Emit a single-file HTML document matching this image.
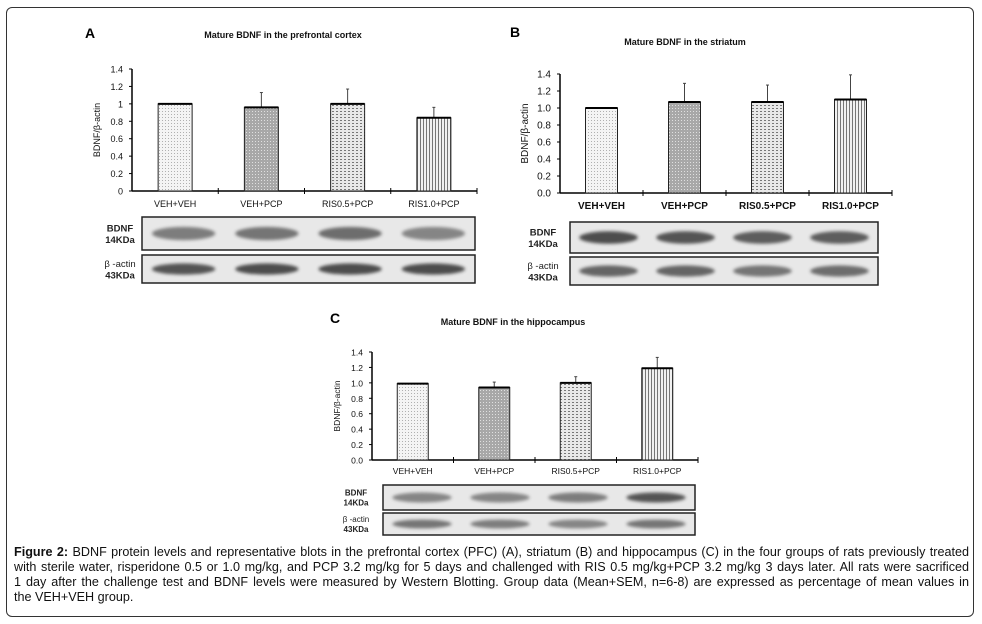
<!DOCTYPE html>
<html><head><meta charset="utf-8"><style>
body{margin:0;background:#fff;width:982px;height:624px;overflow:hidden;font-family:"Liberation Sans",Arial,sans-serif}
#frame{position:absolute;left:6px;top:7px;width:968px;height:610px;border:1px solid #333;border-radius:6px;box-sizing:border-box}
#cap{position:absolute;left:14px;top:545px;width:955px;font-size:12.6px;line-height:15px;color:#111}
#cap div{text-align:justify;text-align-last:justify;white-space:nowrap}
#cap div.last{text-align-last:left}
</style></head><body>
<div id="frame"></div>
<svg id="fig" width="982" height="624" style="position:absolute;left:0;top:0">
<defs>
<pattern id="p0" width="3" height="3" patternUnits="userSpaceOnUse"><rect width="3" height="3" fill="#f4f4f4"/><rect width="1" height="1" fill="#b0b0b0"/></pattern>
<pattern id="p1" width="3" height="3" patternUnits="userSpaceOnUse"><rect width="3" height="3" fill="#a8a8a8"/><rect width="1" height="1" fill="#e0e0e0"/></pattern>
<pattern id="p2" width="4" height="3" patternUnits="userSpaceOnUse"><rect width="4" height="3" fill="#e8e8e8"/><rect width="2" height="1" fill="#777"/></pattern>
<pattern id="p3" width="3" height="3" patternUnits="userSpaceOnUse"><rect width="3" height="3" fill="#f2f2f2"/><rect width="1" height="3" fill="#777"/></pattern>
<filter id="bl" x="-20%" y="-100%" width="140%" height="300%"><feGaussianBlur stdDeviation="1.6"/></filter>
</defs>
</svg>
<div id="cap">
<div><b>Figure 2:</b> BDNF protein levels and representative blots in the prefrontal cortex (PFC) (A), striatum (B) and hippocampus (C) in the four groups of rats previously treated</div>
<div>with sterile water, risperidone 0.5 or 1.0 mg/kg, and PCP 3.2 mg/kg for 5 days and challenged with RIS 0.5 mg/kg+PCP 3.2 mg/kg 3 days later. All rats were sacrificed</div>
<div>1 day after the challenge test and BDNF levels were measured by Western Blotting. Group data (Mean+SEM, n=6-8) are expressed as percentage of mean values in</div>
<div class="last">the VEH+VEH group.</div>
</div>
<script>
const categories=["VEH+VEH","VEH+PCP","RIS0.5+PCP","RIS1.0+PCP"];
const valuesA=[1.0,0.96,1.0,0.84];
const errTopA=[1.0,1.13,1.17,0.96];
const valuesB=[1.0,1.07,1.07,1.10];
const errTopB=[1.0,1.29,1.27,1.39];
const valuesC=[0.99,0.94,1.0,1.19];
const errTopC=[0.99,1.01,1.08,1.33];
const ticksA=["0","0.2","0.4","0.6","0.8","1","1.2","1.4"];
const ticksBC=["0.0","0.2","0.4","0.6","0.8","1.0","1.2","1.4"];
const tickVals=[0,0.2,0.4,0.6,0.8,1.0,1.2,1.4];
const bdnfIntensityA=[0.65,0.7,0.75,0.6];
const actinIntensityA=[0.9,0.95,0.95,0.95];
const bdnfIntensityB=[0.95,0.9,0.85,0.85];
const actinIntensityB=[0.8,0.8,0.7,0.75];
const bdnfIntensityC=[0.6,0.6,0.65,0.9];
const actinIntensityC=[0.7,0.65,0.6,0.7];

const NS="http://www.w3.org/2000/svg";
const svg=document.getElementById('fig');
function mk(tag,attrs,parent){const e=document.createElementNS(NS,tag);for(const k in attrs)e.setAttribute(k,attrs[k]);(parent||svg).appendChild(e);return e;}
function txt(s,attrs,parent){const e=mk('text',attrs,parent);e.textContent=s;return e;}

const panels=[
 {id:'a',letter:'A',lx:85,ly:38,title:'Mature BDNF in the prefrontal cortex',tx:283,ty:38,x0:132,x1:477,y0:191,y1:69,bw:34,vals:valuesA,errs:errTopA,ticks:ticksA,bold:false,labY:207,fs:9,
  blot:{x0:142,x1:475,b:[217,250],a:[255,283],lx:120,bi:bdnfIntensityA,ai:actinIntensityA}},
 {id:'b',letter:'B',lx:510,ly:37,title:'Mature BDNF in the striatum',tx:685,ty:45,x0:560,x1:892,y0:193,y1:74,bw:32,vals:valuesB,errs:errTopB,ticks:ticksBC,bold:true,labY:209,fs:10,
  blot:{x0:570,x1:878,b:[222,253],a:[257,285],lx:543,bi:bdnfIntensityB,ai:actinIntensityB}},
 {id:'c',letter:'C',lx:330,ly:323,title:'Mature BDNF in the hippocampus',tx:513,ty:325,x0:372,x1:698,y0:460,y1:352,bw:31,vals:valuesC,errs:errTopC,ticks:ticksBC,bold:false,labY:474,fs:8.5,
  blot:{x0:383,x1:695,b:[485,510],a:[513,535],lx:356,bi:bdnfIntensityC,ai:actinIntensityC}}
];

panels.forEach(p=>{
 const g=mk('g',{});
 
 
 const L=txt(p.letter,{x:p.lx,y:p.ly,'font-size':14,'font-weight':'bold',fill:'#000'},g);
 
 
 const T=txt(p.title,{x:p.tx,y:p.ty,'font-size':9,'font-weight':'bold','text-anchor':'middle',fill:'#111'},g);
 
 
 const yS=v=>p.y0-(v/1.4)*(p.y0-p.y1);
 const cw=(p.x1-p.x0)/categories.length;
 const xC=i=>p.x0+cw*(i+0.5);
 const ya=mk('line',{x1:p.x0,y1:p.y0,x2:p.x0,y2:p.y1,stroke:'#000','stroke-width':1.5},g);
 
 
 const xa=mk('line',{x1:p.x0,y1:p.y0,x2:p.x1,y2:p.y0,stroke:'#000','stroke-width':1.5},g);
 
 
 tickVals.forEach((v,i)=>{
  mk('line',{x1:p.x0-3,y1:yS(v),x2:p.x0,y2:yS(v),stroke:'#000'},g);
  const t=txt(p.ticks[i],{x:p.x0-9,y:yS(v)+3.5,'font-size':p.fs,'text-anchor':'end',fill:'#111'},g);
  
  
 });
 for(let i=1;i<=categories.length;i++){mk('line',{x1:p.x0+cw*i,y1:p.y0-3,x2:p.x0+cw*i,y2:p.y0+3,stroke:'#000'},g);}
 const yt=txt('BDNF/β-actin',{x:0,y:0,'font-size':p.fs,'text-anchor':'middle',fill:'#111',transform:`translate(${p.x0-32},${(p.y0+p.y1)/2}) rotate(-90)`},g);
 
 
 p.vals.forEach((v,i)=>{
  const cx=xC(i);
  const eb=mk('line',{x1:cx,y1:yS(p.errs[i]),x2:cx,y2:yS(v),stroke:'#444'},g);
  
  
  mk('line',{x1:cx-1.5,y1:yS(p.errs[i]),x2:cx+1.5,y2:yS(p.errs[i]),stroke:'#444'},g);
  const r=mk('rect',{x:cx-p.bw/2,y:yS(v),width:p.bw,height:p.y0-yS(v),fill:'url(#p'+i+')',stroke:'#222','stroke-width':1},g);
  
  
  mk('line',{x1:cx-p.bw/2,y1:yS(v),x2:cx+p.bw/2,y2:yS(v),stroke:'#000','stroke-width':2},g);
  const lb=txt(categories[i],{x:cx,y:p.labY,'font-size':p.fs,'font-weight':p.bold?'bold':'normal','text-anchor':'middle',fill:'#111'},g);
  
  
 });
 const b=p.blot;
 [['bdnf',b.b,b.bi,'BDNF','14KDa'],['actin',b.a,b.ai,'β -actin','43KDa']].forEach(([nm,yy,ints,l1,l2])=>{
  const bx=mk('rect',{x:b.x0,y:yy[0],width:b.x1-b.x0,height:yy[1]-yy[0],fill:'#e8e8e8',stroke:'#222','stroke-width':1.5},g);
  
  
  const bcw=(b.x1-b.x0)/4;
  ints.forEach((it,i)=>{
   const e=mk('ellipse',{cx:b.x0+bcw*(i+0.5),cy:(yy[0]+yy[1])/2,rx:bcw*0.38,ry:(yy[1]-yy[0])*0.2,fill:'#444',opacity:it,filter:'url(#bl)'},g);
   
   
  });
  const fs=p.id==='c'?8:9.5;
  const mid=(yy[0]+yy[1])/2;
  const t1=txt(l1,{x:b.lx,y:mid-2,'font-size':fs,'font-weight':nm==='bdnf'?'bold':'normal','text-anchor':'middle',fill:'#222'},g);
  
  
  const t2=txt(l2,{x:b.lx,y:mid+fs,'font-size':fs,'font-weight':'bold','text-anchor':'middle',fill:'#222'},g);
  
  
 });
});
</script>
</body></html>
